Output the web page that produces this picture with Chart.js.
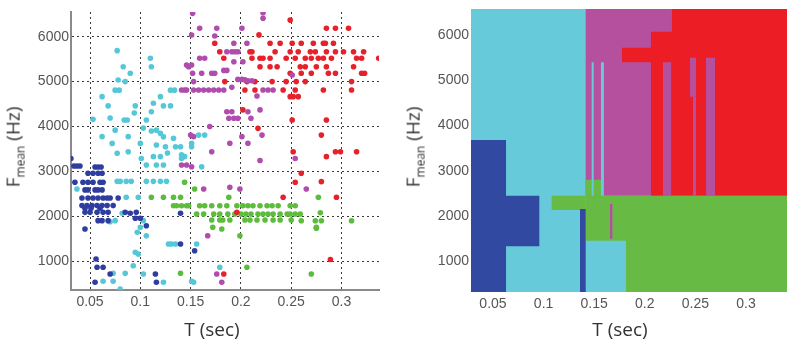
<!DOCTYPE html>
<html lang="en">
<head>
<meta charset="UTF-8">
<title>T / F mean</title>
<script src="https://cdn.jsdelivr.net/npm/chart.js"></script>
<style>
    body { margin: 0; background: #fff; }
    #page { position: relative; width: 789px; height: 348px; overflow: hidden; }
    .panel { position: absolute; top: 0; height: 348px; }
    #leftPanel { left: 0; width: 395px; }
    #rightPanel { left: 395px; width: 394px; }
    .ytitle {
        position: absolute; font-family: 'Open Sans', sans-serif; font-size: 19px; color: #333;
        white-space: nowrap; line-height: 1; transform: translate(-50%, -50%) rotate(-90deg);
    }
    .ytitle sub { font-size: 12px; }
    .xtitle {
        position: absolute; font-family: 'Open Sans', sans-serif; font-size: 19px; color: #333;
        white-space: nowrap; line-height: 1; transform: translate(-50%, -50%);
    }
</style>
</head>
<body>
<div id="page">
    <div class="panel" id="leftPanel"><canvas id="scatterChart"></canvas></div>
    <div class="panel" id="rightPanel"><canvas id="regionChart"></canvas></div>
    <div class="ytitle" style="left:15px; top:147px;">F<sub>mean</sub> (Hz)</div>
    <div class="ytitle" style="left:415px; top:147px;">F<sub>mean</sub> (Hz)</div>
    <div class="xtitle" style="left:212px; top:329px;">T (sec)</div>
    <div class="xtitle" style="left:620px; top:329px;">T (sec)</div>
</div>

<script>
    // axis ticks (T in seconds, F mean in Hz)
    var tTicks = [0.05, 0.1, 0.15, 0.2, 0.25, 0.3];
    var tLabels = ['0.05', '0.1', '0.15', '0.2', '0.25', '0.3'];
    var fTicks = [1000, 2000, 3000, 4000, 5000, 6000];
    var fLabels = ['1000', '2000', '3000', '4000', '5000', '6000'];

    // classes
    var classes = ['blue', 'cyan', 'magenta', 'red', 'green'];
    var dotColors = { blue: '#2e3d9f', cyan: '#55c8d8', magenta: '#b04cae', red: '#e6212b', green: '#5cbd3c' };
    var areaColors = { blue: '#3249a1', cyan: '#66cadb', magenta: '#b5509f', red: '#ed1d25', green: '#67bb45' };

    // measured samples [T, F]
    var bluePts = [
        [0.031, 3290], [0.034, 3120], [0.037, 3120], [0.040, 3120], [0.055, 3100], [0.058, 3100], [0.061, 3100],
        [0.048, 2960], [0.053, 2960], [0.058, 2960], [0.062, 2960],
        [0.035, 2760], [0.043, 2760], [0.048, 2760], [0.053, 2760], [0.060, 2760], [0.063, 2760],
        [0.045, 2590], [0.048, 2590], [0.055, 2590], [0.058, 2590], [0.062, 2590],
        [0.042, 2410], [0.048, 2410], [0.053, 2410], [0.058, 2410], [0.063, 2410], [0.067, 2410], [0.070, 2410], [0.078, 2410],
        [0.042, 2240], [0.047, 2240], [0.052, 2240], [0.057, 2240], [0.062, 2240], [0.067, 2240], [0.073, 2240],
        [0.045, 2180], [0.051, 2180], [0.060, 2180],
        [0.045, 2090], [0.050, 2090], [0.057, 2090], [0.063, 2090], [0.068, 2090], [0.085, 2090], [0.096, 2090], [0.090, 2070],
        [0.058, 1905], [0.062, 1905], [0.068, 1905], [0.095, 1960], [0.100, 1960], [0.106, 1790],
        [0.045, 1720], [0.056, 1050], [0.057, 866], [0.063, 866], [0.070, 717], [0.055, 533], [0.115, 717], [0.116, 533],
        [0.140, 1385], [0.154, 1235], [0.140, 2070]
    ];
    var cyanPts = [
        [0.077, 5690], [0.083, 5330], [0.090, 5185], [0.078, 5035], [0.085, 5000], [0.075, 4810], [0.079, 4810],
        [0.062, 4665], [0.068, 4460], [0.095, 4460], [0.053, 4160], [0.070, 4190], [0.084, 4145], [0.087, 4145],
        [0.094, 4300], [0.106, 4145], [0.111, 4330], [0.113, 4520], [0.120, 4665], [0.123, 4460], [0.130, 4460],
        [0.110, 5520], [0.111, 5330], [0.130, 4810], [0.134, 4810],
        [0.103, 3965], [0.111, 3900], [0.116, 3920], [0.120, 3850], [0.123, 3770], [0.133, 3740], [0.075, 3920],
        [0.062, 3775], [0.088, 3775], [0.072, 3625], [0.100, 3625], [0.116, 3590], [0.125, 3550], [0.135, 3550],
        [0.140, 3550], [0.077, 3405], [0.088, 3440], [0.113, 3330], [0.120, 3330], [0.101, 3290], [0.127, 3410],
        [0.106, 3145], [0.116, 3145], [0.123, 3145], [0.141, 3370], [0.144, 3330], [0.151, 3550],
        [0.037, 2610], [0.077, 2780], [0.080, 2780], [0.086, 2780], [0.091, 2780], [0.106, 2780], [0.113, 2780],
        [0.120, 2780], [0.126, 2780], [0.086, 2425], [0.098, 2425], [0.075, 1905], [0.070, 1880], [0.082, 2070],
        [0.103, 1905], [0.106, 1570], [0.097, 1645], [0.100, 1757], [0.128, 1385], [0.131, 1385], [0.135, 1385],
        [0.095, 1200], [0.098, 1160], [0.093, 900], [0.073, 733], [0.085, 733], [0.063, 555], [0.073, 555],
        [0.080, 380], [0.103, 717], [0.151, 555], [0.123, 533],
        [0.158, 3810], [0.164, 3810], [0.151, 3627], [0.141, 3290], [0.161, 3105], [0.156, 1385], [0.179, 866], [0.153, 533]
    ];
    var magentaPts = [
        [0.152, 6520], [0.159, 6187], [0.176, 6187], [0.201, 6187], [0.222, 6535], [0.222, 6410], [0.174, 6015],
        [0.151, 6037], [0.193, 5853], [0.206, 5853], [0.186, 5666], [0.191, 5666], [0.194, 5666], [0.197, 5666],
        [0.202, 5443], [0.193, 5443], [0.159, 5520], [0.164, 5520], [0.148, 5332], [0.146, 5370], [0.151, 5370],
        [0.152, 5185], [0.161, 5185], [0.171, 5185], [0.174, 5185], [0.183, 5250], [0.186, 5250], [0.197, 5050],
        [0.201, 5050], [0.204, 5040], [0.207, 5020], [0.211, 5020], [0.153, 5000],
        [0.141, 4813], [0.144, 4813], [0.146, 4813], [0.153, 4813], [0.158, 4813], [0.163, 4813], [0.168, 4813],
        [0.173, 4813], [0.178, 4813], [0.183, 4813], [0.191, 4873], [0.222, 4813], [0.227, 4813], [0.232, 4813],
        [0.216, 4680], [0.251, 5147], [0.186, 4330], [0.191, 4330], [0.188, 4185], [0.193, 4185], [0.197, 4185],
        [0.207, 4330], [0.219, 4370], [0.210, 4185], [0.153, 3775], [0.169, 4000], [0.189, 3627], [0.201, 3775],
        [0.207, 3627], [0.171, 3440], [0.151, 3105], [0.254, 3290], [0.150, 3810], [0.141, 3145], [0.146, 3145],
        [0.221, 3810], [0.163, 2610], [0.189, 2650], [0.199, 2610], [0.219, 3245], [0.265, 2610], [0.167, 1570],
        [0.176, 717], [0.181, 533]
    ];
    var redPts = [
        [0.218, 6040], [0.229, 5853], [0.239, 5853], [0.251, 5853], [0.260, 5853], [0.272, 5853], [0.282, 5853],
        [0.284, 5853], [0.292, 5853], [0.285, 6187], [0.294, 6187], [0.307, 6187], [0.249, 6370], [0.174, 5853],
        [0.179, 5666], [0.209, 5666], [0.211, 5666], [0.234, 5666], [0.249, 5666], [0.257, 5666], [0.269, 5666],
        [0.274, 5666], [0.285, 5666], [0.294, 5666], [0.302, 5666], [0.312, 5666], [0.322, 5666],
        [0.183, 5520], [0.211, 5520], [0.219, 5520], [0.222, 5520], [0.229, 5520], [0.245, 5520], [0.254, 5520],
        [0.264, 5520], [0.270, 5520], [0.277, 5520], [0.282, 5520], [0.290, 5520], [0.315, 5520], [0.320, 5520],
        [0.337, 5520],
        [0.219, 5332], [0.229, 5332], [0.236, 5332], [0.259, 5332], [0.264, 5332], [0.275, 5332], [0.285, 5332],
        [0.312, 5332], [0.320, 5185], [0.323, 5185], [0.249, 5185], [0.260, 5185], [0.270, 5185], [0.287, 5185],
        [0.294, 5185],
        [0.184, 5000], [0.206, 5000], [0.214, 5000], [0.231, 5000], [0.245, 5000], [0.255, 5000], [0.264, 5000],
        [0.310, 5000], [0.204, 4813], [0.214, 4813], [0.242, 4813], [0.254, 4813], [0.282, 4813], [0.310, 4813],
        [0.249, 4665], [0.252, 4665], [0.257, 4665], [0.202, 4370], [0.251, 4145], [0.285, 4145], [0.217, 3960],
        [0.280, 3810], [0.294, 3440], [0.299, 3440], [0.285, 3330], [0.252, 3440], [0.315, 3440], [0.260, 2960],
        [0.280, 2773], [0.295, 2425], [0.254, 2760], [0.242, 2425], [0.196, 2090], [0.183, 717], [0.289, 1040]
    ];
    var greenPts = [
        [0.111, 2425], [0.123, 2425], [0.133, 2425], [0.140, 2425], [0.133, 2238], [0.136, 2238], [0.141, 2238],
        [0.146, 2238], [0.154, 2610], [0.140, 733], [0.188, 2425], [0.144, 2760], [0.277, 2425],
        [0.148, 2238], [0.159, 2238], [0.164, 2238], [0.171, 2238], [0.179, 2238], [0.186, 2238], [0.196, 2238],
        [0.202, 2238], [0.207, 2238], [0.212, 2238], [0.219, 2238], [0.226, 2238], [0.231, 2238], [0.237, 2238],
        [0.249, 2238], [0.254, 2238],
        [0.156, 2053], [0.163, 2053], [0.173, 2053], [0.179, 2053], [0.187, 2053], [0.194, 2053], [0.200, 2053],
        [0.205, 2053], [0.210, 2053], [0.217, 2053], [0.222, 2053], [0.227, 2053], [0.232, 2053], [0.239, 2053],
        [0.246, 2053], [0.249, 2053], [0.254, 2053], [0.259, 2053], [0.279, 2082],
        [0.171, 1920], [0.179, 1920], [0.182, 1920], [0.189, 1920], [0.204, 1920], [0.209, 1920], [0.216, 1920],
        [0.224, 1920], [0.232, 1920], [0.239, 1920], [0.250, 1920], [0.260, 1904], [0.274, 1904], [0.280, 1904],
        [0.310, 1904],
        [0.172, 1757], [0.181, 1720], [0.275, 1757], [0.275, 1735], [0.199, 1570], [0.206, 866], [0.270, 717]
    ];

    // classifier regions [T from, T to, F from, F to, class], later ones painted over earlier ones
    var regions = [
        [0.028, 0.3405, 320, 6570, 'cyan'],
        [0.1416, 0.3405, 2448, 6570, 'magenta'],
        [0.2268, 0.3405, 2448, 6570, 'red'],
        [0.2061, 0.2268, 2448, 6067, 'red'],
        [0.1775, 0.2061, 5392, 5714, 'red'],
        [0.2180, 0.2260, 2448, 5392, 'magenta'],
        [0.2447, 0.2506, 4633, 5493, 'magenta'],
        [0.2476, 0.2506, 2448, 4633, 'magenta'],
        [0.2605, 0.2694, 2448, 5493, 'magenta'],
        [0.1416, 0.3405, 320, 2448, 'green'],
        [0.1416, 0.1580, 2448, 2800, 'green'],
        [0.1080, 0.1416, 2132, 2448, 'green'],
        [0.1475, 0.1495, 2448, 5392, 'cyan'],
        [0.1567, 0.1596, 2448, 5392, 'cyan'],
        [0.1416, 0.1814, 320, 1455, 'cyan'],
        [0.1360, 0.1416, 320, 2154, 'blue'],
        [0.1656, 0.1680, 1500, 2263, 'magenta'],
        [0.028, 0.0629, 320, 3677, 'blue'],
        [0.0629, 0.0958, 1331, 2448, 'blue']
    ];

    var tickFont = { family: 'Liberation Sans', size: 14 };

    function xScale(min, max, axisLines) {
        return {
            type: 'linear', min: min, max: max,
            afterBuildTicks: function (s) { s.ticks = tTicks.map(function (v) { return { value: v }; }); },
            afterFit: function (s) { s.height = 28; s.paddingLeft = 0; s.paddingRight = 0; },
            ticks: {
                callback: function (v, i) { return tLabels[i]; },
                padding: 4, color: '#555', font: tickFont, maxRotation: 0, autoSkip: false
            },
            grid: { display: axisLines, color: '#3a3a3a', lineWidth: 1, drawTicks: false },
            border: { display: axisLines, color: '#8a8a8a', width: 2, dash: [2, 3] }
        };
    }

    function yScale(min, max, width, axisLines) {
        return {
            type: 'linear', min: min, max: max,
            afterBuildTicks: function (s) { s.ticks = fTicks.map(function (v) { return { value: v }; }); },
            afterFit: function (s) { s.width = width; s.paddingTop = 0; s.paddingBottom = 0; },
            ticks: {
                callback: function (v, i) { return fLabels[i]; },
                padding: 2, color: '#555', font: tickFont, autoSkip: false
            },
            grid: { display: axisLines, color: '#3a3a3a', lineWidth: 1, drawTicks: false },
            border: { display: axisLines, color: '#8a8a8a', width: 2, dash: [2, 3] }
        };
    }

    var common = {
        responsive: true,
        maintainAspectRatio: false,
        animation: false,
        events: [],
        plugins: { legend: { display: false }, tooltip: { enabled: false } }
    };

    // scatter of the samples
    var pts = { blue: bluePts, cyan: cyanPts, magenta: magentaPts, red: redPts, green: greenPts };
    var scatterSets = classes.map(function (c) {
        return {
            data: pts[c].map(function (p) { return { x: p[0], y: p[1] }; }),
            backgroundColor: dotColors[c],
            borderWidth: 0,
            pointRadius: 2.8
        };
    });

    new Chart(document.getElementById('scatterChart'), {
        type: 'scatter',
        data: { datasets: scatterSets },
        options: Object.assign({}, common, {
            layout: { padding: { left: 0, right: 16, top: 12, bottom: 30 } },
            scales: { x: xScale(0.0311, 0.3373, true), y: yScale(361, 6550, 71, true) }
        })
    });

    // decision regions, each one a closed filled outline
    var regionSets = regions.map(function (r, i) {
        return {
            data: [
                { x: r[0], y: r[2] }, { x: r[1], y: r[2] }, { x: r[1], y: r[3] },
                { x: r[0], y: r[3] }, { x: r[0], y: r[2] }
            ],
            fill: 'shape',
            backgroundColor: areaColors[r[4]],
            borderWidth: 0,
            pointRadius: 0,
            tension: 0,
            order: regions.length - i
        };
    });

    new Chart(document.getElementById('regionChart'), {
        type: 'line',
        data: { datasets: regionSets },
        options: Object.assign({}, common, {
            layout: { padding: { left: 0, right: 2, top: 9, bottom: 28 } },
            scales: { x: xScale(0.0283, 0.3405, false), y: yScale(322, 6568, 76, false) }
        })
    });
</script>
</body>
</html>
